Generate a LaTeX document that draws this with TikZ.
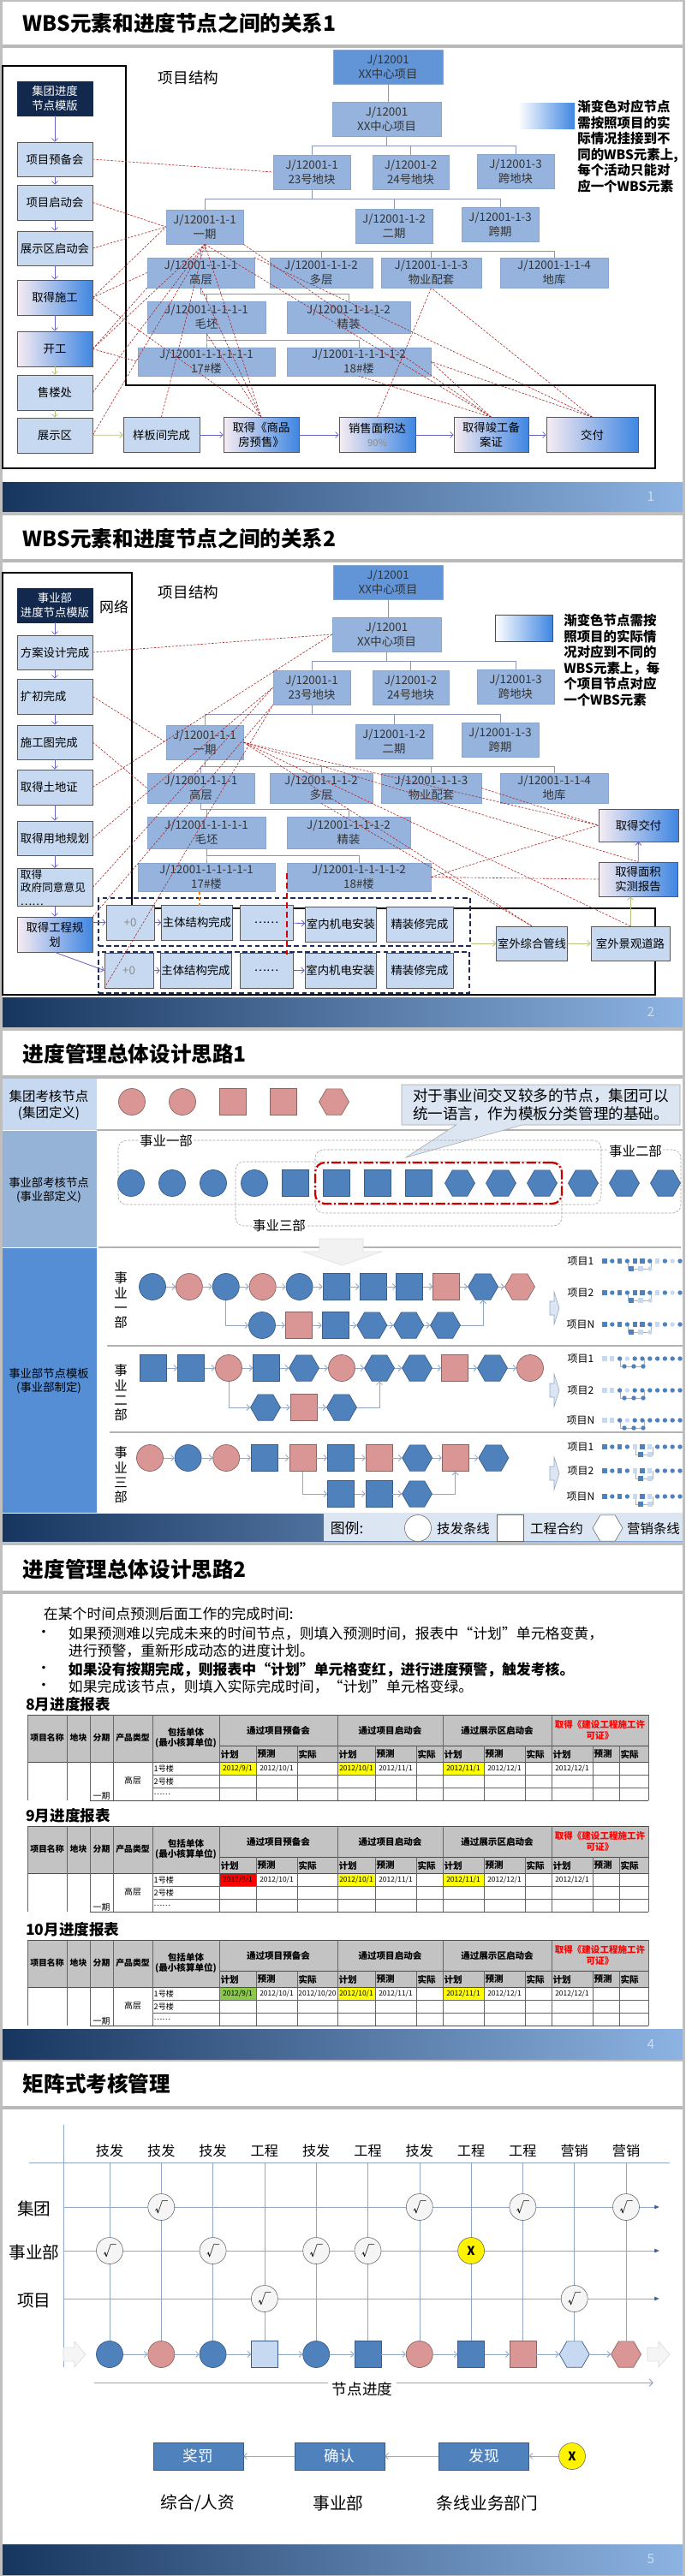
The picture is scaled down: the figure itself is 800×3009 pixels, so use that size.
\documentclass[tikz,border=0pt]{standalone}
\usepackage{fontspec}
\setmainfont{Noto Sans CJK SC}
\usetikzlibrary{arrows.meta,shapes.geometric,shapes.callouts}

\definecolor{slidegray}{HTML}{BFBFBF}
\definecolor{navybox}{HTML}{12294D}
\definecolor{navyline}{HTML}{1F2B5A}
\definecolor{lightbox}{HTML}{C6D9F1}
\definecolor{wbsfill}{HTML}{95B3DC}
\definecolor{wbsroot}{HTML}{6195D8}
\definecolor{wbsdraw}{HTML}{87A6D0}
\definecolor{gradL}{HTML}{F7ECF2}
\definecolor{gradR}{HTML}{3F86E2}
\definecolor{lilac}{HTML}{6A63C6}
\definecolor{olive}{HTML}{B4BF7C}
\definecolor{treeline}{HTML}{8A95B8}
\definecolor{darkred}{HTML}{B02A2A}
\definecolor{footL}{HTML}{17365F}
\definecolor{footR}{HTML}{8DB3E2}
\definecolor{nblue}{HTML}{4F81BD}
\definecolor{nblueD}{HTML}{385D8A}
\definecolor{npink}{HTML}{D99694}
\definecolor{npinkD}{HTML}{8E6463}
\definecolor{nlight}{HTML}{C6D9F1}
\definecolor{band1}{HTML}{C6D9F1}
\definecolor{band2}{HTML}{95B3D7}
\definecolor{band3}{HTML}{558ED5}
\definecolor{steel}{HTML}{8FA6C4}
\definecolor{callfill}{HTML}{DCE6F2}
\definecolor{hdrgray}{HTML}{C3C3C3}
\definecolor{jyel}{HTML}{FFFF00}
\definecolor{jred}{HTML}{FF0000}
\definecolor{jgrn}{HTML}{8CC84B}

\newcommand\fsz[2]{\fontsize{#1}{#2}\selectfont}

\tikzset{
  sz/.style 2 args={minimum width=#1*0.25mm, minimum height=#2*0.25mm},
  jbox/.style={draw=black!65, fill=lightbox, inner sep=1pt, align=center, font=\fsz{9.5}{12}},
  jboxl/.style={jbox, align=left, text width=20mm},
  navybx/.style={jbox, fill=navybox, draw=navybox, text=white},
  grad/.style={jbox, left color=gradL, right color=gradR},
  wbs/.style={draw=wbsdraw, fill=wbsfill, inner sep=1pt, align=center, font=\fsz{9.5}{12}, text=black!80},
  wbsline/.style={treeline, line width=0.6pt},
  lila/.style={lilac, line width=0.6pt, -{Straight Barb[length=2.5pt,width=5pt]}},
  oliv/.style={olive, line width=0.6pt, -{Straight Barb[length=2.5pt,width=5pt]}},
  rlink/.style={darkred, line width=0.45pt, dash pattern=on 1.8pt off 1.2pt},
  grp/.style={draw=navyline, line width=1.1pt, dash pattern=on 4pt off 2.5pt},
  circ/.style={circle, minimum size=31*0.25mm, inner sep=0},
  quad/.style={rectangle, minimum size=31*0.25mm, inner sep=0},
  hexa/.style={regular polygon, regular polygon sides=6, minimum size=35*0.25mm, inner sep=0},
  bl/.style={fill=nblue, draw=nblueD, line width=0.5pt},
  pk/.style={fill=npink, draw=npinkD, line width=0.5pt},
  lb/.style={fill=nlight, draw=nblueD, line width=0.5pt},
  wt/.style={fill=white, draw=black!60},
  flow/.style={steel, line width=0.6pt, -{Straight Barb[length=2.5pt,width=5pt]}},
  sybox/.style={draw=gray!75, rounded corners=7pt, dash pattern=on 2pt off 1.2pt},
  chk/.style={circle, fill=gray!8, draw=black!60, minimum size=31*0.25mm, inner sep=0, font=\fsz{11}{12}},
  chkx/.style={chk, fill=yellow, font=\bfseries\fsz{10}{12}},
  pbox/.style={fill=nblue, draw=nblueD, text=white, font=\fsz{12.5}{14}},
  thd/.style={font=\bfseries\fsz{7.5}{9}},
}

\begin{document}
\begin{tikzpicture}[x=0.25mm, y=-0.25mm, every node/.style={font=\fsz{9.5}{12}}]
  \useasboundingbox (0,0) rectangle (800,3009);
  % Hintergrund und Folienflaechen
  \fill[slidegray] (0,0) rectangle (800,3009);
  \foreach \a/\b in {2/598, 602/1200, 1204/1801, 1805/2406, 2408/3007} \fill[white] (3,\a) rectangle (797,\b);
  % Titel
  \foreach \yc/\tx in {27/WBS元素和进度节点之间的关系1, 629/WBS元素和进度节点之间的关系2, 1231/进度管理总体设计思路1, 1833/进度管理总体设计思路2, 2434/矩阵式考核管理}
    \node[anchor=west, font=\bfseries\fsz{17.5}{20}] (ti\yc) at (22,\yc) {\tx};
  \foreach \y in {53.5,655,1258,1860,2461.5} \fill[gray!55] (3,\y-2) rectangle (797,\y+2);
  % Fusszeilen
  \foreach \yt/\yb/\pn in {563/597/1, 1165/1199/2, 1768/1800/{}, 2370/2405/4, 2972/3007/5}{
    \shade[left color=footL, right color=footR] (3,\yt) rectangle (797,\yb);
    \node[text=footR!45!white, font=\fsz{11}{12}] (pg\yt) at (760,{(\yt+\yb)/2}) {\pn};
  }

  % ===== Folie 1 =====
  \draw[line width=1.1pt] (3,77) -- (147,77) -- (147,450) -- (765,450) -- (765,547) -- (3,547) -- cycle;
  \node[font=\fsz{12.5}{14}] (ps1) at (220,91) {项目结构};
  % WBS-Baum (Folie 1 und 2)
  \foreach \pf/\dy in {t/0, u/602}{
    \begin{scope}[shift={(0,\dy)}]
      \node[wbs, fill=wbsroot, sz={128}{40}] (\pf L0) at (453,78) {J/12001\\XX中心项目};
      \node[wbs, sz={127}{40}] (\pf L1) at (451.5,139) {J/12001\\XX中心项目};
      \node[wbs, sz={90}{40}] (\pf A1) at (364,201) {J/12001-1\\23号地块};
      \node[wbs, sz={89}{40}] (\pf A2) at (479.5,201) {J/12001-2\\24号地块};
      \node[wbs, sz={90}{40}] (\pf A3) at (602,200) {J/12001-3\\跨地块};
      \node[wbs, sz={90}{40}] (\pf B1) at (239,265) {J/12001-1-1\\一期};
      \node[wbs, sz={90}{40}] (\pf B2) at (460,264) {J/12001-1-2\\二期};
      \node[wbs, sz={90}{40}] (\pf B3) at (584,262) {J/12001-1-3\\跨期};
      \node[wbs, sz={125}{35}] (\pf C1) at (234.5,318.5) {J/12001-1-1-1\\高层};
      \node[wbs, sz={120}{35}] (\pf C2) at (375,318.5) {J/12001-1-1-2\\多层};
      \node[wbs, sz={117}{35}] (\pf C3) at (503.5,318.5) {J/12001-1-1-3\\物业配套};
      \node[wbs, sz={126}{35}] (\pf C4) at (647,318.5) {J/12001-1-1-4\\地库};
      \node[wbs, sz={138}{37}] (\pf D1) at (241,370.5) {J/12001-1-1-1-1\\毛坯};
      \node[wbs, sz={144}{37}] (\pf D2) at (407,370.5) {J/12001-1-1-1-2\\精装};
      \node[wbs, sz={160}{33}] (\pf E1) at (241,422.5) {J/12001-1-1-1-1-1\\17\#楼};
      \node[wbs, sz={168}{33}] (\pf E2) at (419,422.5) {J/12001-1-1-1-1-2\\18\#楼};
      \draw[wbsline] (\pf L0.south) -- (\pf L0.south |- \pf L1.north);
      \foreach \c in {A1,A2,A3} \draw[wbsline] (\pf L1.south) -- ++(0,11) -| (\pf\c.north);
      \foreach \c in {B1,B2,B3} \draw[wbsline] (\pf A1.south) -- ++(0,11) -| (\pf\c.north);
      \foreach \c in {C1,C2,C3,C4} \draw[wbsline] (\pf B1.south) -- ++(0,8) -| (\pf\c.north);
      \foreach \c in {D1,D2} \draw[wbsline] (\pf C1.south) -- ++(0,7) -| (\pf\c.north);
      \foreach \c in {E1,E2} \draw[wbsline] (\pf D1.south) -- ++(0,8) -| (\pf\c.north);
    \end{scope}
  }
  % Knotenkette links
  \node[navybx, sz={88}{40}] (j0) at (64,115) {集团进度\\节点模版};
  \node[jbox, sz={88}{40}] (j1) at (64,186) {项目预备会};
  \node[jbox, sz={88}{41}] (j2) at (64,236.5) {项目启动会};
  \node[jbox, sz={88}{40}] (j3) at (64,290) {展示区启动会};
  \node[grad, sz={88}{41}] (j4) at (64,347.5) {取得施工};
  \node[grad, sz={88}{41}] (j5) at (64,407.5) {开工};
  \node[jbox, sz={88}{41}] (j6) at (64,458.5) {售楼处};
  \node[jbox, sz={88}{41}] (j7) at (64,508.5) {展示区};
  \foreach \a/\b in {j0/j1,j1/j2,j2/j3,j3/j4,j4/j5} \draw[lila] (\a) -- (\b);
  \foreach \a/\b in {j5/j6,j6/j7} \draw[oliv] (\a) -- (\b);
  % Knotenkette unten
  \node[jbox, sz={89}{41}] (k1) at (188.5,508) {样板间完成};
  \node[grad, sz={88}{41}] (k2) at (305,508) {取得《商品\\房预售》};
  \node[grad, sz={89}{41}] (k3) at (440.5,508) {销售面积达\\{\color{black!45}\fsz{8}{10}90\%}};
  \node[grad, sz={87}{41}] (k4) at (573.5,508) {取得竣工备\\案证};
  \node[grad, sz={107}{41}] (k5) at (691.5,508) {交付};
  \draw[oliv] (j7) -- (k1);
  \foreach \a/\b in {k1/k2,k2/k3,k3/k4,k4/k5} \draw[lila] (\a) -- (\b);
  % Zuordnungen
  \foreach \a/\b in {j1.east/tA1.west, j2.east/tB1.west, j3.east/tB1.west, j4.east/tB1.west, j4.east/tC1.west, j4.east/k2.north, j5.east/tC1.south west, j5.east/tE1.west, j5.east/tB1.south, j6.east/tB1.south, j7.east/tB1.south, k1.north/tB1.south, k2.north/tB1.south, k2.north/tC1.south, k2.north/tD1.south, k3.north/tC3.south, k4.north/tB1.south, k4.north/tB1.south east, k4.north/tE2.east, k4.north/tE2.south, k5.north/tC3.south, k5.north/tE2.east, k5.north/tC1.north east}
    \draw[rlink] (\a) -- (\b);
  % Legende
  \node[sz={66}{30}, left color=white, right color=gradR, inner sep=0] (lg1) at (638,135) {};
  \node[anchor=north west, align=left, font=\bfseries\fsz{11}{13.2}, inner sep=0] (lt1) at (674,117) {渐变色对应节点\\需按照项目的实\\际情况挂接到不\\同的WBS元素上,\\每个活动只能对\\应一个WBS元素};

  % ===== Folie 2 =====
  \draw[line width=1.1pt] (3,669) -- (154,669) -- (154,1061) -- (765,1061) -- (765,1162) -- (3,1162) -- cycle;
  \node[font=\fsz{12.5}{14}] (ps2) at (220,692) {项目结构};
  \node[navybx, sz={88}{40}] (n0) at (64,707) {事业部\\进度节点模版};
  \node[font=\fsz{12}{14}] (wl) at (133,709) {网络};
  \node[jboxl, sz={88}{40}] (n1) at (64,762) {方案设计完成};
  \node[jboxl, sz={88}{41}] (n2) at (64,813.5) {扩初完成};
  \node[jboxl, sz={88}{40}] (n3) at (64,867) {施工图完成};
  \node[jboxl, sz={88}{41}] (n4) at (64,919.5) {取得土地证};
  \node[jboxl, sz={88}{40}] (n5) at (64,979) {取得用地规划};
  \node[jboxl, sz={88}{41}, font=\fsz{9}{11}] (n6) at (64,1036.5) {取得\\政府同意意见\\……};
  \node[grad, sz={88}{41}] (n7) at (64,1091.5) {取得工程规\\划};
  \foreach \a/\b in {n0/n1,n1/n2,n2/n3,n3/n4,n4/n5,n5/n6,n6/n7} \draw[lila] (\a) -- (\b);
  % Bauabschnitte
  \node[grp, sz={434}{56}] (g1) at (332,1077) {};
  \node[grp, sz={433}{48}] (g2) at (331.5,1136) {};
  \node[jbox, sz={56}{41}, text=black!45] (e1) at (152,1077.5) {+0};
  \node[jbox, sz={70}{41}] (e2) at (230,1077.5) {主体结构完成};
  \node[jbox, sz={62}{41}] (e3) at (311,1077.5) {……};
  \node[jbox, sz={72}{41}] (e4) at (398,1079.5) {室内机电安装};
  \node[jbox, sz={78}{41}] (e5) at (490,1079.5) {精装修完成};
  \node[jbox, sz={57}{41}, text=black!45] (f1) at (150.5,1133.5) {+0};
  \node[jbox, sz={73}{41}] (f2) at (228.5,1133.5) {主体结构完成};
  \node[jbox, sz={62}{41}] (f3) at (311,1133.5) {……};
  \node[jbox, sz={73}{41}] (f4) at (397.5,1133.5) {室内机电安装};
  \node[jbox, sz={78}{41}] (f5) at (490,1133.5) {精装修完成};
  \foreach \a/\b in {e1/e2,e3/e4,f1/f2,f3/f4} \draw[lila] (\a) -- (\b);
  \draw[lila] (n7.east |- e1.west) -- (e1.west);
  \draw[lila] (n7.south) -- (f1.west);
  % rechte Knoten
  \node[grad, sz={93}{38}] (o1) at (745.5,964) {取得交付};
  \node[grad, sz={92}{40}] (o2) at (745,1027) {取得面积\\实测报告};
  \node[jbox, sz={76}{40}] (o3) at (621,1102) {室外综合管线};
  \node[jbox, sz={92}{40}] (o4) at (736,1102) {室外景观道路};
  \draw[oliv] (g1.east |- o3.west) -- (o3.west);
  \draw[oliv] (o3) -- (o4);
  \draw[oliv] (o4.north) -- (o4.north |- o2.south);
  \draw[lila] (o2) -- (o1);
  % Markierungen
  \coordinate (m1) at (335,1020);
  \coordinate (m2) at (335,1115);
  \coordinate (m3) at (233,1041);
  \coordinate (m4) at (233,1058);
  \draw[red!85!black, line width=1.5pt, dash pattern=on 5pt off 3pt] (m1) -- (m2);
  \draw[orange, line width=1.2pt, dash pattern=on 3pt off 2pt] (m3) -- (m4);
  \foreach \a/\b in {n1.east/uL1.west, n2.east/uB1.west, n3.east/uC1.west, n4.east/uL1.west, n5.east/uA1.west, n6.east/uA1.west, n7.north east/uA1.south west, f1.south west/uA1.south west, uB1.east/o1.west, uB1.east/o2.north, uB1.east/o4.north, uB1.east/o3.north, uE2.east/o1.west, uE2.east/o2.west, uC2.south/o3.north, uC3.east/o1.west}
    \draw[rlink] (\a) -- (\b);
  % Legende
  \node[sz={67}{31}, draw=black!70, left color=white, right color=gradR, inner sep=0] (lg2) at (611.5,733.5) {};
  \node[anchor=north west, align=left, font=\bfseries\fsz{11}{13.2}, inner sep=0] (lt2) at (658,717) {渐变色节点需按\\照项目的实际情\\况对应到不同的\\WBS元素上，每\\个项目节点对应\\一个WBS元素};

  % ===== Folie 3 =====
  \fill[band1] (3,1260) rectangle (113,1320);
  \fill[band2] (3,1321) rectangle (113,1457);
  \fill[band3] (3,1458) rectangle (113,1767);
  \node[font=\fsz{11}{13.5}, align=center] (h31) at (57,1290.5) {集团考核节点\\(集团定义)};
  \node[font=\fsz{9.5}{11.4}, align=center] (h32) at (57,1390) {事业部考核节点\\(事业部定义)};
  \node[font=\fsz{9.5}{11.4}, align=center] (h33) at (57,1613.5) {事业部节点模板\\(事业部制定)};
  \draw[gray!60, line width=1pt] (113,1320) -- (797,1320);
  \draw[gray!60, line width=1pt] (115,1457) -- (795,1457);
  \draw[gray!60, line width=0.8pt] (125,1572) -- (797,1572);
  \draw[gray!60, line width=0.8pt] (128,1673) -- (797,1673);
  % Konzernknoten
  \foreach \t/\x [count=\i] in {circ/154, circ/213, quad/271.5, quad/330.5, hexa/390}
    \node[\t,pk] (gk\i) at (\x,1287) {};
  \node[rectangle callout, callout absolute pointer={(474,1352)}, callout pointer width=55pt, fill=callfill, draw=gray!70, sz={325}{47}, font=\fsz{12.5}{15.4}, align=left, inner sep=2pt] (co) at (631.5,1290.5) {对于事业间交叉较多的节点，集团可以\\统一语言，作为模板分类管理的基础。};
  % Bereichsknoten
  \node[sybox, sz={564}{75}] (sy1) at (420,1369.5) {};
  \node[sybox, sz={427}{74}] (sy2) at (581.5,1380) {};
  \node[sybox, sz={381}{75}] (sy3) at (465.5,1394.5) {};
  \node[draw=red!80!black, line width=1.6pt, rounded corners=8pt, dash pattern=on 8pt off 2pt on 1.5pt off 2pt, sz={288}{48}] (syr) at (512,1382) {};
  \foreach \t [count=\i] in {circ,circ,circ,circ,quad,quad,quad,quad,hexa,hexa,hexa,hexa,hexa,hexa}
    \node[\t,bl] (sk\i) at ({153+48*(\i-1)},1382) {};
  \node[fill=white, font=\fsz{11}{13}, inner sep=1pt] (syl1) at (194,1333) {事业一部};
  \node[fill=white, font=\fsz{11}{13}, inner sep=1pt] (syl2) at (742,1345) {事业二部};
  \node[fill=white, font=\fsz{11}{13}, inner sep=1pt] (syl3) at (326,1432) {事业三部};
  \filldraw[fill=gray!10, draw=gray!25] (373,1447) -- (424,1447) -- (424,1462) -- (446,1462) -- (399.5,1478) -- (353,1462) -- (373,1462) -- cycle;
  % Vorlagen der Bereiche
  \node[font=\fsz{11}{12.3}, align=center] (vl1) at (141,1519) {事\\业\\一\\部};
  \node[font=\fsz{11}{12.3}, align=center] (vl2) at (141,1627) {事\\业\\二\\部};
  \node[font=\fsz{11}{12.3}, align=center] (vl3) at (141,1723) {事\\业\\三\\部};
  % Bereich eins
  \foreach \t/\c [count=\i] in {circ/bl,circ/pk,circ/bl,circ/pk,circ/bl,quad/bl,quad/bl,quad/bl,quad/pk,hexa/bl,hexa/pk}
    \node[\t,\c] (da\i) at ({178+42.9*(\i-1)},1503) {};
  \foreach \t/\c [count=\i] in {circ/bl,quad/pk,quad/bl,hexa/bl,hexa/bl,hexa/bl}
    \node[\t,\c] (db\i) at ({306+42.8*(\i-1)},1548) {};
  \foreach \i in {2,...,11}{\pgfmathtruncatemacro\j{\i-1}\draw[flow] (da\j) -- (da\i);}
  \foreach \i in {2,...,6}{\pgfmathtruncatemacro\j{\i-1}\draw[flow] (db\j) -- (db\i);}
  \draw[flow] (da3.south) |- (db1.west);
  \draw[flow] (db6.east) -| (da10.south);
  % Bereich zwei
  \foreach \t/\c [count=\i] in {quad/bl,quad/bl,circ/pk,quad/bl,hexa/bl,circ/pk,hexa/bl,hexa/bl,quad/pk,hexa/bl,circ/pk}
    \node[\t,\c] (dc\i) at ({179+44*(\i-1)},1598) {};
  \foreach \t/\c [count=\i] in {hexa/bl,quad/pk,hexa/bl}
    \node[\t,\c] (dd\i) at ({310+44.5*(\i-1)},1644) {};
  \foreach \i in {2,...,11}{\pgfmathtruncatemacro\j{\i-1}\draw[flow] (dc\j) -- (dc\i);}
  \foreach \i in {2,3}{\pgfmathtruncatemacro\j{\i-1}\draw[flow] (dd\j) -- (dd\i);}
  \draw[flow] (dc3.south) |- (dd1.west);
  \draw[flow] (dd3.east) -| (dc7.south);
  % Bereich drei
  \foreach \t/\c [count=\i] in {circ/pk,circ/bl,circ/pk,quad/bl,quad/pk,quad/bl,quad/pk,hexa/bl,quad/pk,hexa/bl}
    \node[\t,\c] (de\i) at ({175+44.6*(\i-1)},1703) {};
  \foreach \t/\c [count=\i] in {quad/bl,quad/bl,hexa/bl}
    \node[\t,\c] (df\i) at ({398+44.5*(\i-1)},1745) {};
  \foreach \i in {2,...,10}{\pgfmathtruncatemacro\j{\i-1}\draw[flow] (de\j) -- (de\i);}
  \foreach \i in {2,3}{\pgfmathtruncatemacro\j{\i-1}\draw[flow] (df\j) -- (df\i);}
  \draw[flow] (de5.south) |- (df1.west);
  \draw[flow] (df3.east) -| (de9.south);
  % Projekte rechts
  \foreach \yc in {1528,1624,1721}
    \filldraw[fill=callfill, draw=steel] (642,\yc-8) -- (647,\yc-8) -- (647,\yc-19) -- (653,\yc) -- (647,\yc+19) -- (647,\yc+8) -- (642,\yc+8) -- cycle;
  \foreach \yy/\tx in {1473/项目1, 1510/项目2, 1547/项目N, 1587/项目1, 1624/项目2, 1659/项目N, 1690/项目1, 1718/项目2, 1748/项目N}
    \node[font=\fsz{8.5}{10}] (pj\yy) at (678,\yy) {\tx};
  \foreach \yy in {1473,1510,1547}{
    \draw[gray!60, line width=0.3pt] (733,\yy) |- (760,\yy+9) -- (760,\yy);
    \foreach \s/\c [count=\k from 0] in {1/nblue,0/nblue,1/nblue,0/nblue,1/nblue,1/nblue,0/nblue,1/nlight,0/nblue,0/nlight,0/nblue}
      {\ifnum\s=0 \fill[\c] ({706+8.8*\k},\yy) circle[radius=2.7]; \else \fill[\c] ({703.4+8.8*\k},\yy-2.6) rectangle ++(5.2,5.2); \fi}
    \foreach \s/\c [count=\k from 0] in {1/nblue,1/nlight,0/nlight}
      {\ifnum\s=0 \fill[\c] ({737+11*\k},\yy+9) circle[radius=2.7]; \else \fill[\c] ({734.4+11*\k},\yy+6.4) rectangle ++(5.2,5.2); \fi}
  }
  \foreach \yy in {1587,1624,1659}{
    \draw[gray!60, line width=0.3pt] (724,\yy) |- (752,\yy+9) -- (752,\yy);
    \foreach \s/\c [count=\k from 0] in {1/nlight,1/nlight,0/nblue,0/nlight,0/nblue,0/nblue,0/nblue,0/nblue,0/nblue,0/nblue,0/nblue}
      {\ifnum\s=0 \fill[\c] ({706+8.8*\k},\yy) circle[radius=2.7]; \else \fill[\c] ({703.4+8.8*\k},\yy-2.6) rectangle ++(5.2,5.2); \fi}
    \foreach \k in {0,1,2} \fill[nblue] ({729+11*\k},\yy+9) circle[radius=2.7];
  }
  \foreach \yy in {1690,1718,1748}{
    \draw[gray!60, line width=0.3pt] (742,\yy) |- (762,\yy+9) -- (762,\yy);
    \foreach \s/\c [count=\k from 0] in {1/nblue,0/nblue,1/nblue,0/nblue,1/nlight,1/nblue,1/nlight,0/nblue,0/nblue,0/nblue,0/nblue}
      {\ifnum\s=0 \fill[\c] ({706+8.8*\k},\yy) circle[radius=2.7]; \else \fill[\c] ({703.4+8.8*\k},\yy-2.6) rectangle ++(5.2,5.2); \fi}
    \fill[nblue] (745.4,\yy+6.4) rectangle ++(5.2,5.2);
    \fill[nlight] (756.4,\yy+6.4) rectangle ++(5.2,5.2);
  }
  % Legende
  \fill[callfill] (378,1767) rectangle (797,1800);
  \node[font=\fsz{12}{14}] (lgt) at (405,1785) {图例:};
  \node[circ, wt] (lgc) at (488,1785) {};
  \node[font=\fsz{11}{13}] (lgct) at (541,1786) {技发条线};
  \node[quad, wt] (lgq) at (595.5,1785) {};
  \node[font=\fsz{11}{13}] (lgqt) at (650,1786) {工程合约};
  \node[hexa, wt] (lgh) at (709.5,1785) {};
  \node[font=\fsz{11}{13}] (lght) at (763,1786) {营销条线};

  % ===== Folie 4 =====
  \node[anchor=west, font=\fsz{12}{14}] (s4a) at (46,1885) {在某个时间点预测后面工作的完成时间:};
  \foreach \yy in {1908,1950,1970} \node[font=\fsz{12}{14}] (bp\yy) at (51,\yy) {•};
  \node[anchor=west, font=\fsz{12}{14}] (s4b) at (75,1908) {如果预测难以完成未来的时间节点，则填入预测时间，报表中“计划”单元格变黄，};
  \node[anchor=west, font=\fsz{12}{14}] (s4c) at (75,1928) {进行预警，重新形成动态的进度计划。};
  \node[anchor=west, font=\bfseries\fsz{12}{14}] (s4d) at (75,1950) {如果没有按期完成，则报表中“计划”单元格变红，进行进度预警，触发考核。};
  \node[anchor=west, font=\fsz{12}{14}] (s4e) at (75,1970) {如果完成该节点，则填入实际完成时间，“计划”单元格变绿。};
  % Berichtstabellen
  \foreach \ty/\tn/\fc/\ac in {2003/8月进度报表/jyel/{}, 2133/9月进度报表/jred/{}, 2266/10月进度报表/jgrn/{2012/10/20}}{
    \node[anchor=west, font=\bfseries\fsz{12.5}{14}, inner sep=0] (tt\ty) at (30,\ty-12) {\tn};
    \fill[hdrgray] (32,\ty) rectangle (757,\ty+55);
    \fill[\fc] (256,\ty+55) rectangle (299,\ty+70);
    \fill[jyel] (394,\ty+55) rectangle (438,\ty+70);
    \fill[jyel] (517,\ty+55) rectangle (565,\ty+70);
    \draw[black!70] (32,\ty) -- (757,\ty);
    \draw[black!70] (32,\ty+55) -- (757,\ty+55);
    \draw[black!70] (256,\ty+36) -- (757,\ty+36);
    \foreach \dd in {70,85} \draw[black!60] (178,\ty+\dd) -- (757,\ty+\dd);
    \draw[black!70] (105,\ty+100) -- (757,\ty+100);
    \foreach \x in {32,78,105,132,178,256,394,517,644,757} \draw[black!60] (\x,\ty) -- (\x,\ty+100);
    \foreach \x in {299,347,438,486,565,613,692,723} \draw[black!60] (\x,\ty+36) -- (\x,\ty+100);
    \foreach \x/\tx [count=\i] in {55/项目名称, 91.5/地块, 118.5/分期, 155/产品类型}
      \node[thd, font=\bfseries\fsz{7}{8}] (hl\ty\i) at (\x,\ty+27) {\tx};
    \node[thd, align=center] (hb\ty) at (217,\ty+27) {包括单体\\(最小核算单位)};
    \foreach \x/\tx [count=\i] in {325/通过项目预备会, 455.5/通过项目启动会, 580.5/通过展示区启动会}
      \node[thd] (hg\ty\i) at (\x,\ty+18) {\tx};
    \node[thd, align=center, text=red] (hr\ty) at (700.5,\ty+18) {取得《建设工程施工许\\可证》};
    \foreach \x/\tx [count=\i] in {256/计划,299/预测,347/实际,394/计划,438/预测,486/实际,517/计划,565/预测,613/实际,644/计划,692/预测,723/实际}
      \node[thd, anchor=west, inner sep=1pt] (hs\ty\i) at (\x,\ty+46) {\tx};
    \foreach \yy/\tx [count=\i] in {62.5/1号楼, 77.5/2号楼, 92.5/……}
      \node[anchor=west, font=\fsz{6.5}{8}, inner sep=1pt] (hu\ty\i) at (178,\ty+\yy) {\tx};
    \node[font=\fsz{7}{8}] (hp\ty) at (155,\ty+77) {高层};
    \node[font=\fsz{7}{8}] (hq\ty) at (118.5,\ty+95) {一期};
    \foreach \x/\tx [count=\i] in {277.5/{2012/9/1}, 323/{2012/10/1}, 370.5/{\ac}, 416/{2012/10/1}, 462/{2012/11/1}, 541/{2012/11/1}, 589/{2012/12/1}, 668/{2012/12/1}}
      \node[font=\fsz{6}{7}, inner sep=0] (v\ty\i) at (\x,\ty+63) {\tx};
  }

  % ===== Folie 5 =====
  \coordinate (va1) at (74,2482);
  \coordinate (va2) at (74,2765);
  \coordinate (hl1) at (34,2526);
  \coordinate (hl2) at (782,2526);
  \draw[steel] (va1) -- (va2);
  \draw[steel] (hl1) -- (hl2);
  \foreach \tx [count=\i] in {技发,技发,技发,工程,技发,工程,技发,工程,工程,营销,营销}
    \node[font=\fsz{11.5}{13}] (ml\i) at ({128+60.3*(\i-1)},2512) {\tx};
  \foreach \t/\c [count=\i] in {circ/bl,circ/pk,circ/bl,quad/lb,circ/bl,quad/bl,circ/pk,quad/bl,quad/pk,hexa/lb,hexa/pk}
    \node[\t,\c] (mz\i) at ({128+60.3*(\i-1)},2750) {};
  \foreach \i in {2,...,11}{\pgfmathtruncatemacro\j{\i-1}\draw[flow] (mz\j) -- (mz\i);}
  \foreach \i in {1,...,11} \draw[steel] (ml\i.south |- hl1) -- (mz\i.north);
  \foreach \y/\tx [count=\i] in {2578/集团, 2629/事业部, 2685/项目}{
    \node[font=\fsz{14}{16}] (mr\i) at (40,\y+2) {\tx};
    \coordinate (re\i) at (770,\y);
    \draw[steel, -{Latex[length=4pt,width=3.5pt,color=nblueD]}] (va1 |- re\i) -- (re\i);
  }
  \foreach \r/\c in {1/2,1/7,1/9,1/11,2/1,2/3,2/5,2/6,3/4,3/10}
    \node[chk] (ck\r\c) at (mz\c |- re\r) {√};
  \node[chkx] (ckx) at (mz8 |- re2) {X};
  \foreach \xo in {0,682}
    \filldraw[fill=gray!8, draw=gray!30] (74+\xo,2742) -- (87+\xo,2742) -- (87+\xo,2735) -- (100+\xo,2750) -- (87+\xo,2765) -- (87+\xo,2758) -- (74+\xo,2758) -- cycle;
  % Zeitachse
  \coordinate (ax1) at (110,2783);
  \coordinate (ax2) at (763,2783);
  \draw[steel, line width=0.7pt, -{Straight Barb[length=3pt,width=6pt]}] (ax1) -- (ax2);
  \node[fill=white, font=\fsz{12.5}{14}] (axl) at (423,2791) {节点进度};
  % Ablauf
  \node[pbox, sz={105}{32}] (pb1) at (231.5,2869) {奖罚};
  \node[pbox, sz={105}{32}] (pb2) at (396.5,2869) {确认};
  \node[pbox, sz={105}{32}] (pb3) at (565,2869) {发现};
  \node[chkx] (pbx) at (668,2869) {X};
  \foreach \a/\b in {pbx/pb3,pb3/pb2,pb2/pb1} \draw[flow] (\a) -- (\b);
  \node[font=\fsz{14}{16}] (pl1) at (231,2924) {综合/人资};
  \node[font=\fsz{14}{16}] (pl2) at (395,2924) {事业部};
  \node[font=\fsz{14}{16}] (pl3) at (569,2924) {条线业务部门};
\end{tikzpicture}
\end{document}
